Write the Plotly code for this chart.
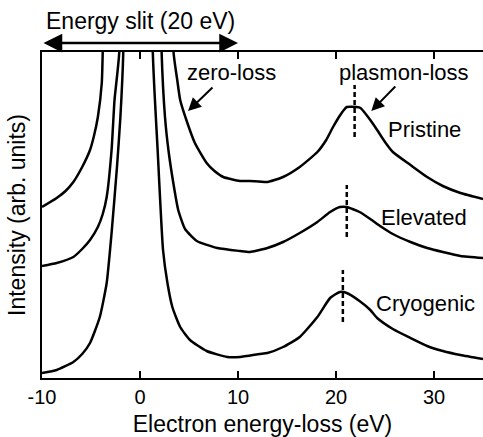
import plotly.graph_objects as go

# ---- data (intensity in arbitrary units, curves offset vertically) ----
energy_pristine = [-10, -8.5, -7.6, -6.8, -5.9, -5.1, -4.7, -4.3, -3.9, -3.8, 0, 3.4, 3.8, 4.1, 4.8,
                   5.6, 6.8, 7.6, 8.5, 10.2, 11.2, 13.0, 14.6, 16.3, 18.1, 19.0, 19.7, 20.3, 20.8,
                   21.1, 22.1, 22.5, 23.5, 24.2, 25.0, 25.8, 27.6, 29.3, 30.9, 32.7, 35]
intensity_pristine = [171, 180, 187, 196, 211, 228, 242, 261, 295, 328, 3000, 328, 298, 278, 256,
                      235, 215, 207, 201, 197, 197, 196, 201, 211, 226, 238, 251, 261, 268,
                      271, 271, 270, 258, 248, 236, 226, 213, 201, 192, 185, 179]

energy_elevated = [-10, -8.5, -6.8, -5.9, -5.1, -4.3, -3.8, -3.4, -2.9, -2.6, -2.1, 0, 2.2, 2.55,
                   2.9, 3.4, 3.9, 4.6, 5.8, 7.9, 10.2, 11.2, 13.0, 14.6, 16.3, 18.1, 19.4, 20.4,
                   21.1, 22.4, 23.5, 24.5, 25.8, 27.6, 29.3, 30.9, 32.7, 35]
intensity_elevated = [112, 115, 121, 129, 138, 151, 164, 181, 228, 278, 328, 3000, 328, 261,
                      228, 195, 168, 149, 137, 130, 127, 126, 130, 136, 145, 156, 166, 171,
                      171, 166, 159, 152, 144, 136, 130, 126, 122, 120]

energy_cryogenic = [-10, -8.5, -6.8, -5.9, -5.1, -4.1, -3.4, -2.9, -2.35, -2.0, -1.7, 0, 1.3, 1.8,
                    2.35, 2.8, 3.3, 4.1, 5.1, 6.8, 8.9, 10.2, 12.2, 13.0, 14.6, 16.3, 18.1, 19.4,
                    20.4, 21.1, 22.4, 23.5, 24.2, 25.8, 27.6, 29.3, 30.9, 32.7, 35]
intensity_cryogenic = [5, 8, 16, 24, 35, 61, 95, 145, 211, 261, 328, 3000, 328, 228,
                       128, 95, 71, 51, 38, 27, 21, 21, 24, 25, 31, 41, 61, 80,
                       86, 85, 77, 68, 60, 49, 40, 32, 27, 23, 19]

series_names = ["Pristine", "Elevated", "Cryogenic"]
plasmon_peak_energy = [21.9, 21.1, 20.7]
plasmon_peak_intensity = [271, 171, 86]
x_tick_values = [-10, 0, 10, 20, 30]
x_tick_labels = ["-10", "0", "10", "20", "30"]
slit_edges = [-10, 10]

FONT = "Liberation Sans, Arial, Helvetica, sans-serif"

fig = go.Figure()
for name, xs, ys in zip(series_names,
                        [energy_pristine, energy_elevated, energy_cryogenic],
                        [intensity_pristine, intensity_elevated, intensity_cryogenic]):
    fig.add_trace(go.Scatter(x=xs, y=ys, mode="lines", name=name,
                             line=dict(color="black", width=2.5, shape="spline", smoothing=0.5),
                             showlegend=False, hoverinfo="skip"))

# dashed markers at plasmon peaks
for e, i in zip(plasmon_peak_energy, plasmon_peak_intensity):
    fig.add_shape(type="line", xref="x", yref="y", x0=e, x1=e, y0=i - 30, y1=i + 22,
                  line=dict(color="black", width=2.5, dash="5px,3px"))

annotations = []
# sample labels
label_pos = {"Pristine": (29.0, 249), "Elevated": (29.0, 161), "Cryogenic": (29.1, 75)}
for name in series_names:
    x, y = label_pos[name]
    annotations.append(dict(x=x, y=y, xref="x", yref="y", text=name, showarrow=False,
                            font=dict(size=22, color="black", family=FONT)))
# zero-loss / plasmon-loss labels and arrows
annotations.append(dict(x=9.3, y=306, xref="x", yref="y", text="zero-loss", showarrow=False,
                        font=dict(size=22, color="black", family=FONT)))
annotations.append(dict(x=26.9, y=306, xref="x", yref="y", text="plasmon-loss", showarrow=False,
                        font=dict(size=22, color="black", family=FONT)))
annotations.append(dict(x=4.9, y=267, ax=7.55, ay=292, xref="x", yref="y", axref="x", ayref="y",
                        text="", showarrow=True, arrowhead=2, arrowsize=1.3, arrowwidth=2,
                        arrowcolor="black"))
annotations.append(dict(x=23.6, y=267, ax=26.2, ay=293, xref="x", yref="y", axref="x", ayref="y",
                        text="", showarrow=True, arrowhead=2, arrowsize=1.3, arrowwidth=2,
                        arrowcolor="black"))
# energy slit
annotations.append(dict(x=sum(slit_edges) / 2, y=1.0936, xref="x", yref="paper",
                        xanchor="center", yanchor="middle",
                        text="Energy slit (20 eV)", showarrow=False,
                        font=dict(size=23, color="black", family=FONT)))
annotations.append(dict(x=slit_edges[1], y=1.0276, ax=slit_edges[0], ay=0,
                        xref="x", yref="paper", axref="x", ayref="pixel",
                        text="", showarrow=True, arrowhead=2, arrowside="end+start",
                        arrowsize=1.5, arrowwidth=2.5, arrowcolor="black"))

fig.update_layout(
    width=483, height=437,
    margin=dict(l=42, r=0, t=52, b=59),
    paper_bgcolor="white", plot_bgcolor="white",
    font=dict(family=FONT, color="black"),
    annotations=annotations,
    xaxis=dict(range=[-10, 35], tickvals=x_tick_values, ticktext=x_tick_labels,
               ticks="inside", ticklen=7, tickwidth=1.5, tickcolor="black",
               showline=True, linewidth=2, linecolor="black", mirror="ticks",
               showgrid=False, zeroline=False,
               tickfont=dict(size=20, color="black", family=FONT),
               title=dict(text="Electron energy-loss (eV)", standoff=10,
                          font=dict(size=23, color="black", family=FONT))),
    yaxis=dict(range=[0, 326], showticklabels=False, ticks="",
               showline=True, linewidth=2, linecolor="black", mirror=False,
               showgrid=False, zeroline=False,
               title=dict(text="Intensity (arb. units)", standoff=8,
                          font=dict(size=23, color="black", family=FONT))),
)

fig.write_html("out.html")
